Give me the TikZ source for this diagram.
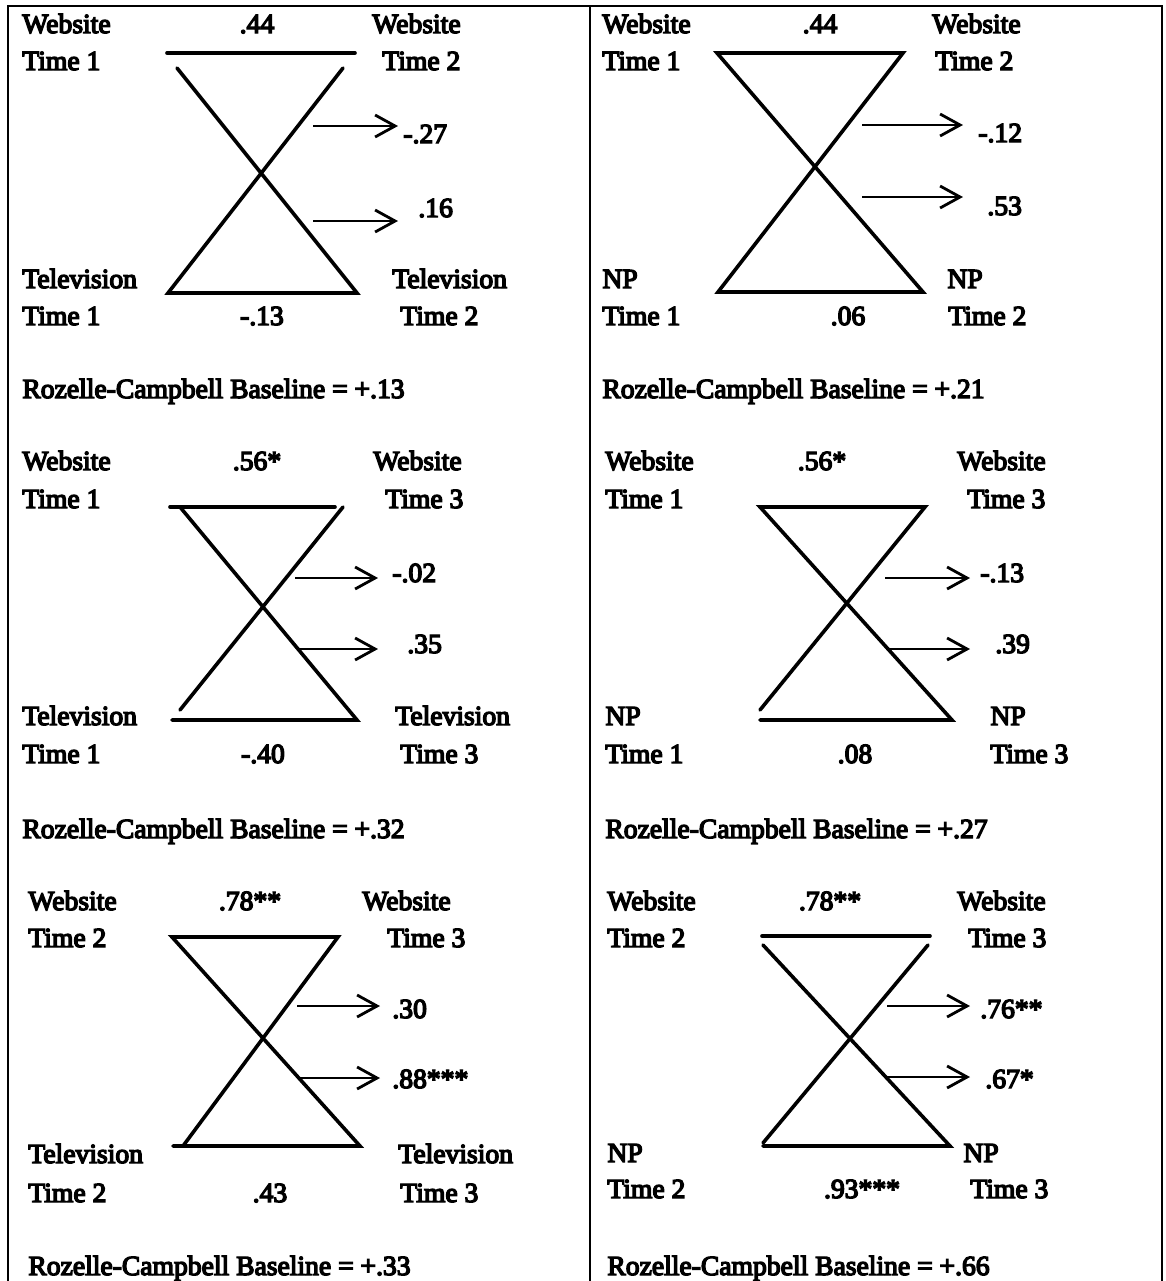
\documentclass[tikz,border=0pt]{standalone}
\usepackage{fontspec}
\newfontfamily\scanfont{Liberation Serif}[FakeBold=5]
\usetikzlibrary{arrows.meta}
\tikzset{
  lbl/.style={inner sep=0pt, anchor=base west, font=\scanfont\fontsize{13.8}{16}\selectfont},
  num/.style={lbl, anchor=base},
  edge/.style={line width=1.8pt, line cap=round, line join=miter},
  eff/.style={line width=1.4pt, -{Straight Barb[length=10pt,width=11pt,line width=1.4pt]}},
  frame/.style={line width=1.1pt},
}
\begin{document}
\begin{tikzpicture}[x=0.5pt,y=-0.5pt]
\useasboundingbox (0,0) rectangle (1166,1281);
% frame
\coordinate (ftl) at (8,6); \coordinate (ftr) at (1162,6);
\coordinate (fbl) at (8,1281); \coordinate (fbr) at (1162,1281);
\coordinate (fdt) at (590,6); \coordinate (fdb) at (590,1281);
\draw[frame] (fbl) -- (ftl) -- (ftr) -- (fbr);
\draw[frame] (fdt) -- (fdb);

% ---------- Panel 1 ----------
\node[lbl] (p1ua) at (22,33) {Website};
\node[lbl] (p1ub) at (22,70) {Time 1};
\node[num] (p1top) at (257,33) {.44};
\node[lbl] (p1va) at (372,33) {Website};
\node[lbl] (p1vb) at (382,70) {Time 2};
\coordinate (p1a) at (167,53); \coordinate (p1b) at (355,53);
\coordinate (p1c) at (177,68); \coordinate (p1d) at (343,68);
\coordinate (p1e) at (168,293); \coordinate (p1f) at (357,293);
\draw[edge] (p1a) -- (p1b);
\draw[edge] (p1c) -- (p1f) -- (p1e) -- (p1d);
\coordinate (p1g) at (313,126); \coordinate (p1h) at (398,126);
\coordinate (p1i) at (313,221); \coordinate (p1j) at (398,221);
\draw[eff] (p1g) -- (p1h);
\draw[eff] (p1i) -- (p1j);
\node[lbl] (p1x1) at (403,143) {-.27};
\node[lbl] (p1x2) at (418,217) {.16};
\node[lbl] (p1la) at (22,288) {Television};
\node[lbl] (p1lb) at (22,325) {Time 1};
\node[num] (p1bot) at (262,325) {-.13};
\node[lbl] (p1ra) at (392,288) {Television};
\node[lbl] (p1rb) at (400,325) {Time 2};
\node[lbl] (p1rc) at (22,398) {Rozelle-Campbell Baseline = +.13};

% ---------- Panel 2 ----------
\node[lbl] (p2ua) at (602,33) {Website};
\node[lbl] (p2ub) at (602,70) {Time 1};
\node[num] (p2top) at (820,33) {.44};
\node[lbl] (p2va) at (932,33) {Website};
\node[lbl] (p2vb) at (935,70) {Time 2};
\coordinate (p2a) at (717,53); \coordinate (p2b) at (903,53);
\coordinate (p2e) at (718,292); \coordinate (p2f) at (923,292);
\draw[edge] (p2a) -- (p2b) -- (p2e) -- (p2f) -- cycle;
\coordinate (p2g) at (862,125); \coordinate (p2h) at (963,125);
\coordinate (p2i) at (862,197); \coordinate (p2j) at (963,197);
\draw[eff] (p2g) -- (p2h);
\draw[eff] (p2i) -- (p2j);
\node[lbl] (p2x1) at (978,142) {-.12};
\node[lbl] (p2x2) at (987,215) {.53};
\node[lbl] (p2la) at (602,288) {NP};
\node[lbl] (p2lb) at (602,325) {Time 1};
\node[num] (p2bot) at (848,325) {.06};
\node[lbl] (p2ra) at (947,288) {NP};
\node[lbl] (p2rb) at (948,325) {Time 2};
\node[lbl] (p2rc) at (602,398) {Rozelle-Campbell Baseline = +.21};

% ---------- Panel 3 ----------
\node[lbl] (p3ua) at (22,470) {Website};
\node[lbl] (p3ub) at (22,508) {Time 1};
\node[num] (p3top) at (257,470) {.56*};
\node[lbl] (p3va) at (373,470) {Website};
\node[lbl] (p3vb) at (385,508) {Time 3};
\coordinate (p3a) at (170,507); \coordinate (p3b) at (335,507);
\coordinate (p3c) at (180,507); \coordinate (p3d) at (343,507);
\coordinate (p3e) at (180,710); \coordinate (p3f) at (357,720);
\coordinate (p3k) at (172,720);
\draw[edge] (p3a) -- (p3b);
\draw[edge] (p3c) -- (p3f) -- (p3k);
\draw[edge] (p3d) -- (p3e);
\coordinate (p3g) at (295,578); \coordinate (p3h) at (378,578);
\coordinate (p3i) at (298,649); \coordinate (p3j) at (378,649);
\draw[eff] (p3g) -- (p3h);
\draw[eff] (p3i) -- (p3j);
\node[lbl] (p3x1) at (392,582) {-.02};
\node[lbl] (p3x2) at (407,653) {.35};
\node[lbl] (p3la) at (22,725) {Television};
\node[lbl] (p3lb) at (22,763) {Time 1};
\node[num] (p3bot) at (263,763) {-.40};
\node[lbl] (p3ra) at (395,725) {Television};
\node[lbl] (p3rb) at (400,763) {Time 3};
\node[lbl] (p3rc) at (22,838) {Rozelle-Campbell Baseline = +.32};

% ---------- Panel 4 ----------
\node[lbl] (p4ua) at (605,470) {Website};
\node[lbl] (p4ub) at (605,508) {Time 1};
\node[num] (p4top) at (822,470) {.56*};
\node[lbl] (p4va) at (957,470) {Website};
\node[lbl] (p4vb) at (967,508) {Time 3};
\coordinate (p4a) at (760,507); \coordinate (p4b) at (925,507);
\coordinate (p4e) at (760,710); \coordinate (p4f) at (952,720);
\coordinate (p4k) at (760,720);
\draw[edge] (p4e) -- (p4b) -- (p4a) -- (p4f) -- (p4k);
\coordinate (p4g) at (885,578); \coordinate (p4h) at (970,578);
\coordinate (p4i) at (887,649); \coordinate (p4j) at (970,649);
\draw[eff] (p4g) -- (p4h);
\draw[eff] (p4i) -- (p4j);
\node[lbl] (p4x1) at (980,582) {-.13};
\node[lbl] (p4x2) at (995,653) {.39};
\node[lbl] (p4la) at (605,725) {NP};
\node[lbl] (p4lb) at (605,763) {Time 1};
\node[num] (p4bot) at (855,763) {.08};
\node[lbl] (p4ra) at (990,725) {NP};
\node[lbl] (p4rb) at (990,763) {Time 3};
\node[lbl] (p4rc) at (605,838) {Rozelle-Campbell Baseline = +.27};

% ---------- Panel 5 ----------
\node[lbl] (p5ua) at (28,910) {Website};
\node[lbl] (p5ub) at (28,947) {Time 2};
\node[num] (p5top) at (250,910) {.78**};
\node[lbl] (p5va) at (362,910) {Website};
\node[lbl] (p5vb) at (387,947) {Time 3};
\coordinate (p5a) at (172,937); \coordinate (p5b) at (338,937);
\coordinate (p5e) at (183,1146); \coordinate (p5f) at (360,1146);
\coordinate (p5k) at (173,1146);
\draw[edge] (p5k) -- (p5f) -- (p5a) -- (p5b) -- (p5e);
\coordinate (p5g) at (297,1006); \coordinate (p5h) at (380,1006);
\coordinate (p5i) at (298,1078); \coordinate (p5j) at (380,1078);
\draw[eff] (p5g) -- (p5h);
\draw[eff] (p5i) -- (p5j);
\node[lbl] (p5x1) at (392,1018) {.30};
\node[lbl] (p5x2) at (392,1088) {.88***};
\node[lbl] (p5la) at (28,1163) {Television};
\node[lbl] (p5lb) at (28,1202) {Time 2};
\node[num] (p5bot) at (270,1202) {.43};
\node[lbl] (p5ra) at (398,1163) {Television};
\node[lbl] (p5rb) at (400,1202) {Time 3};
\node[lbl] (p5rc) at (28,1275) {Rozelle-Campbell Baseline = +.33};

% ---------- Panel 6 ----------
\node[lbl] (p6ua) at (607,910) {Website};
\node[lbl] (p6ub) at (607,947) {Time 2};
\node[num] (p6top) at (830,910) {.78**};
\node[lbl] (p6va) at (957,910) {Website};
\node[lbl] (p6vb) at (968,947) {Time 3};
\coordinate (p6a) at (762,936); \coordinate (p6b) at (930,936);
\coordinate (p6c) at (763,945); \coordinate (p6d) at (928,945);
\coordinate (p6e) at (763,1143); \coordinate (p6f) at (950,1146);
\coordinate (p6k) at (763,1146);
\draw[edge] (p6a) -- (p6b);
\draw[edge] (p6c) -- (p6f) -- (p6k);
\draw[edge] (p6d) -- (p6e);
\coordinate (p6g) at (887,1006); \coordinate (p6h) at (970,1006);
\coordinate (p6i) at (887,1077); \coordinate (p6j) at (970,1077);
\draw[eff] (p6g) -- (p6h);
\draw[eff] (p6i) -- (p6j);
\node[lbl] (p6x1) at (980,1018) {.76**};
\node[lbl] (p6x2) at (985,1088) {.67*};
\node[lbl] (p6la) at (607,1162) {NP};
\node[lbl] (p6lb) at (607,1198) {Time 2};
\node[num] (p6bot) at (862,1198) {.93***};
\node[lbl] (p6ra) at (963,1162) {NP};
\node[lbl] (p6rb) at (970,1198) {Time 3};
\node[lbl] (p6rc) at (607,1275) {Rozelle-Campbell Baseline = +.66};
\end{tikzpicture}
\end{document}
